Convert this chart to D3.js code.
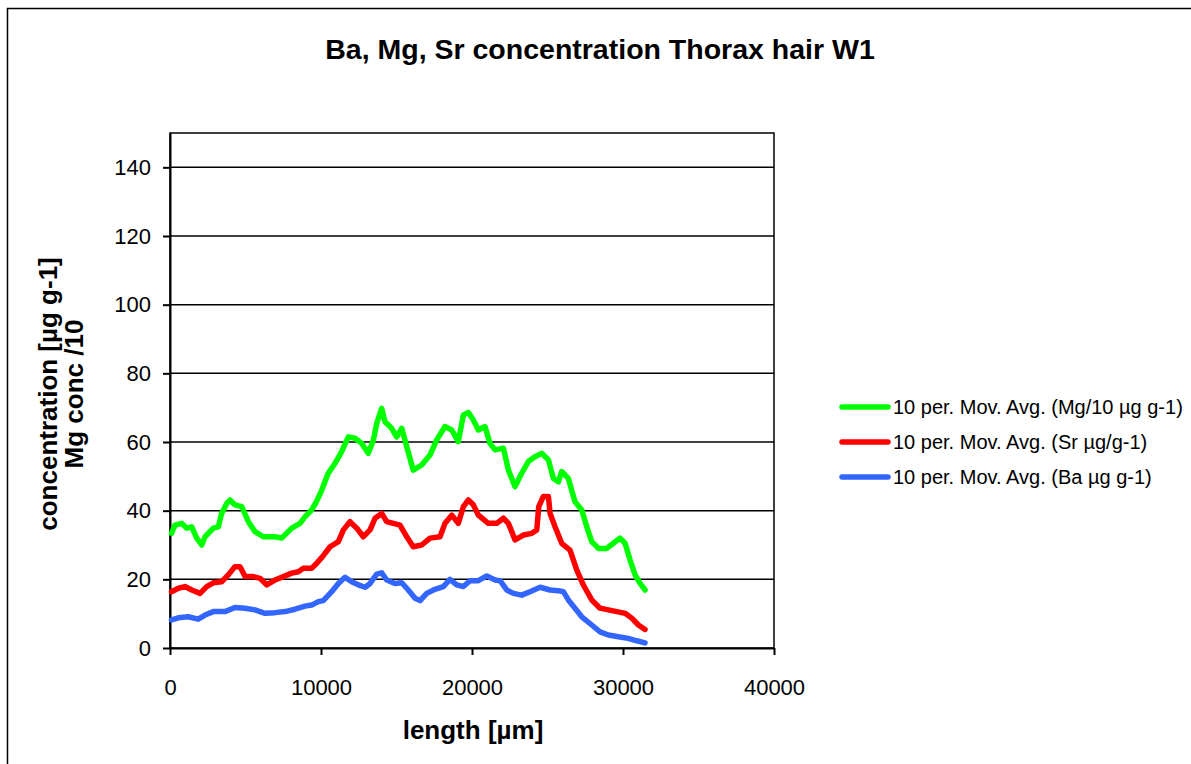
<!DOCTYPE html>
<html>
<head>
<meta charset="utf-8">
<script src="https://cdn.jsdelivr.net/npm/d3@7"></script>
<style>
  body { margin: 0; background: #fff; }
  svg { display: block; font-family: Arial, "Liberation Sans", sans-serif; }
  .grid line { stroke: #000; stroke-width: 1.5; }
  .axis path, .axis line { stroke: #000; stroke-width: 2; }
  .axis text { font-size: 22px; fill: #000; }
  .line { fill: none; stroke-width: 5.5; stroke-linejoin: round; stroke-linecap: round; }
</style>
</head>
<body>
<svg width="1191" height="764"></svg>
<script>
// Chart values: [length in µm, concentration]
var mgData = [
  [100,33.4],[330,35.8],[780,36.3],[1110,34.9],[1440,35.3],[1770,32],[2100,30],[2320,32.4],
  [2870,34.9],[3200,35.3],[3420,39.2],[3760,42.1],[3970,43.1],[4300,41.7],[4750,41.2],[5190,36.8],
  [5630,33.9],[6180,32.4],[6950,32.4],[7400,32],[8060,34.9],[8610,36.3],[8940,38.2],[9380,40.2],
  [9700,42.6],[10050,46],[10480,50.9],[10930,53.8],[11370,57.2],[11810,61.5],[12250,61.1],[12700,59.6],
  [13130,56.7],[13470,60.6],[13690,65.4],[14020,69.8],[14240,65.9],[14680,64],[15010,61.5],[15350,64],
  [15680,58.6],[16110,51.8],[16670,53.3],[17220,56.2],[17660,60.6],[18210,64.5],[18660,63.5],[19090,60.1],
  [19430,67.9],[19760,68.6],[20090,66.4],[20420,63.5],[20860,64.5],[21190,59.6],[21530,57.7],[22080,58.2],
  [22410,51.8],[22850,47],[23290,50.9],[23730,54.3],[24170,55.7],[24620,56.7],[25060,54.8],[25390,49.4],
  [25720,48.4],[25940,51.4],[26380,49.4],[26820,42.6],[27270,40.2],[27600,35.3],[27930,31],[28370,29],
  [28920,29],[29360,30.5],[29800,32],[30140,30.5],[30470,25.6],[30800,21.3],[31130,18.8],[31460,16.9]
];
var srData = [
  [100,16.4],[550,17.4],[990,17.9],[1440,16.9],[1990,15.9],[2430,17.9],[2870,19],[3420,19.3],
  [3860,21.3],[4300,23.7],[4640,23.7],[4970,20.8],[5520,20.8],[5960,20.3],[6400,18.4],[6950,19.8],
  [7510,20.8],[8060,21.8],[8500,22.2],[8830,23.2],[9380,23.2],[9700,24.6],[10100,26.6],[10600,29.5],
  [11150,31],[11480,34.4],[11920,36.8],[12370,34.9],[12800,32.4],[13250,34.4],[13580,37.8],[14020,39.2],
  [14350,36.8],[14790,36.3],[15230,35.8],[15680,32.4],[16110,29.5],[16670,30],[17220,32],[17880,32.4],
  [18210,36.3],[18660,38.7],[19090,36.3],[19430,41.2],[19760,43.1],[20090,41.7],[20420,38.7],[21080,36.3],
  [21640,36.3],[22080,37.8],[22410,36.3],[22850,31.5],[23400,32.9],[23960,33.4],[24290,34.4],[24420,41.2],
  [24720,44.1],[25060,44.1],[25170,39.2],[25500,35.3],[25940,30.5],[26490,28.5],[26940,22.7],[27370,18.4],
  [27930,14],[28480,11.6],[29030,11.1],[29590,10.6],[30140,10.1],[30580,8.7],[31020,6.7],[31460,5.4]
];
var baData = [
  [100,8.2],[550,8.8],[1210,9.1],[1870,8.4],[2320,9.6],[2870,10.6],[3640,10.6],[4300,11.8],
  [4970,11.6],[5630,11.1],[6290,10.1],[6950,10.3],[7620,10.6],[8280,11.3],[8940,12.2],[9380,12.5],
  [9820,13.5],[10150,13.8],[10710,16.4],[11150,18.8],[11590,20.6],[12030,19.3],[12470,18.4],[12920,17.7],
  [13250,18.8],[13690,21.5],[14020,21.9],[14350,19.8],[14900,18.8],[15350,19],[15780,16.9],[16230,14.5],
  [16560,13.8],[17000,15.9],[17550,17.1],[18100,17.9],[18540,20],[18990,18.4],[19430,17.9],[19870,19.6],
  [20420,19.6],[20980,21],[21530,19.8],[21860,19.6],[22300,16.9],[22740,15.9],[23290,15.4],[23840,16.4],
  [24510,17.7],[25170,16.9],[25720,16.7],[26050,16.4],[26380,14],[26820,11.6],[27270,9.1],[27930,6.7],
  [28480,4.7],[29030,3.8],[29690,3.3],[30350,2.8],[30910,2.1],[31460,1.5]
];

var seriesNames = ["10 per. Mov. Avg. (Mg/10 µg g-1)", "10 per. Mov. Avg. (Sr µg/g-1)", "10 per. Mov. Avg. (Ba µg g-1)"];
var seriesColors = ["#00ff00", "#ff0000", "#3366ff"];
var xTicks = [0, 10000, 20000, 30000, 40000];
var yTicks = [0, 20, 40, 60, 80, 100, 120, 140];

var titleText = "Ba, Mg, Sr concentration Thorax hair W1";
var xTitle = "length [µm]";
var yTitle1 = "concentration [µg g-1]";
var yTitle2 = "Mg conc /10";

var svg = d3.select("svg"),
    margin = {top: 133, left: 170},
    width = 604,
    height = 515,
    g = svg.append("g").attr("transform", "translate(" + margin.left + "," + margin.top + ")");

// outer chart frame
svg.append("rect")
    .attr("x", 7.5).attr("y", 8.5)
    .attr("width", 1200).attr("height", 800)
    .attr("fill", "none").attr("stroke", "#000").attr("stroke-width", 1.5);

var x = d3.scaleLinear().domain([0, 40000]).range([0, width]);
var y = d3.scaleLinear().domain([0, 150]).range([height, 0]);

// gridlines
g.append("g")
    .attr("class", "grid")
    .selectAll("line")
    .data(yTicks.filter(function(d) { return d > 0; }))
    .enter().append("line")
    .attr("x1", 0).attr("x2", width)
    .attr("y1", function(d) { return y(d); })
    .attr("y2", function(d) { return y(d); });

// plot border (top and right)
g.append("rect")
    .attr("width", width).attr("height", height)
    .attr("fill", "none").attr("stroke", "#000").attr("stroke-width", 1.5);

// Axes
g.append("g")
    .attr("class", "x axis")
    .attr("transform", "translate(0," + height + ")")
    .call(d3.axisBottom(x).tickValues(xTicks).tickSize(7).tickSizeOuter(0).tickPadding(24).tickFormat(d3.format("d")));

g.append("g")
    .attr("class", "y axis")
    .call(d3.axisLeft(y).tickValues(yTicks).tickSize(7).tickSizeOuter(0).tickPadding(12));

// Lines
var line = d3.line()
    .x(function(d) { return x(d[0]); })
    .y(function(d) { return y(d[1]); });

[mgData, srData, baData].forEach(function(data, i) {
    g.append("path")
        .datum(data)
        .attr("class", "line")
        .attr("stroke", seriesColors[i])
        .attr("d", line);
});

// Title
svg.append("text")
    .attr("x", 600).attr("y", 59)
    .attr("text-anchor", "middle")
    .attr("font-size", "28.5px").attr("font-weight", "bold")
    .text(titleText);

// Axis titles
svg.append("text")
    .attr("x", 473).attr("y", 739)
    .attr("text-anchor", "middle")
    .attr("font-size", "26px").attr("font-weight", "bold")
    .text(xTitle);

[yTitle1, yTitle2].forEach(function(t, i) {
    svg.append("text")
        .attr("transform", "translate(" + (57 + i * 26) + ",394) rotate(-90)")
        .attr("text-anchor", "middle")
        .attr("font-size", "26px").attr("font-weight", "bold")
        .text(t);
});

// Legend
var legend = svg.append("g").attr("transform", "translate(842,407)");
seriesNames.forEach(function(name, i) {
    var row = legend.append("g").attr("transform", "translate(0," + (i * 35) + ")");
    row.append("line")
        .attr("x1", 0).attr("x2", 46)
        .attr("stroke", seriesColors[i]).attr("stroke-width", 5.5).attr("stroke-linecap", "round");
    row.append("text")
        .attr("x", 51).attr("dy", "0.35em")
        .attr("font-size", "20px")
        .text(name);
});
</script>
</body>
</html>
